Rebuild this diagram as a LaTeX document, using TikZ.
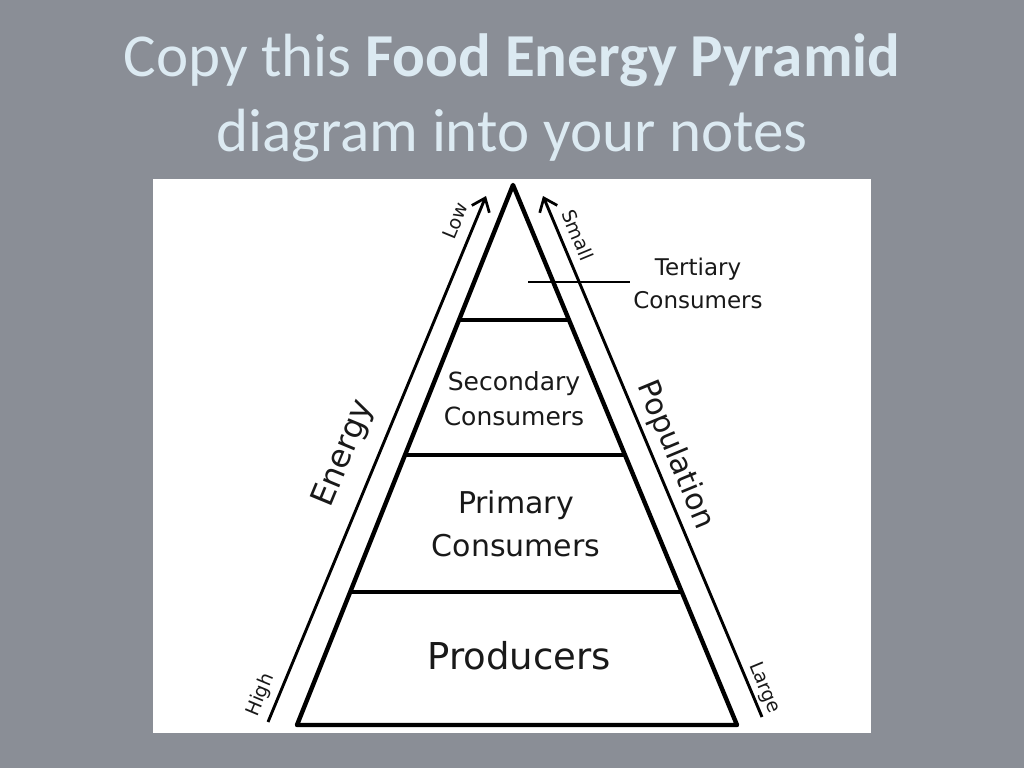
\documentclass[tikz,border=0pt]{standalone}
\usepackage{fontspec}
\setmainfont{Carlito}
\newfontfamily\diagfont{DejaVu Sans}
\usetikzlibrary{arrows.meta}
\definecolor{slidebg}{HTML}{8A8E96}
\definecolor{titlecol}{HTML}{DCEAF2}
\tikzset{
  pyr/.style={line width=4.4pt, line join=round, line cap=round},
  lvl/.style={line width=3.4pt},
  axisarrow/.style={line width=2.9pt, -{Straight Barb[length=12pt,width=19pt,line width=2.7pt]}},
  lbl/.style={font=\diagfont, text=black!90, align=center, inner sep=0pt},
  titletxt/.style={font=\fontsize{61}{70}\selectfont, text=titlecol, inner sep=0pt},
}
\begin{document}
\begin{tikzpicture}[x=1pt,y=-1pt]
\fill[slidebg] (0,0) rectangle (1024,768);
\useasboundingbox (0,0) rectangle (1024,768);
% title
\node[titletxt, anchor=base] (t1) at (512,76) {Copy this \textbf{Food Energy Pyramid}};
\node[titletxt, anchor=base] (t2) at (512,151) {diagram into your notes};
% white picture
\fill[white] (153,179) rectangle (871,733);
% pyramid
\coordinate (apex) at (513,185);
\coordinate (bl) at (297,725);
\coordinate (br) at (737,725);
\draw[pyr] (apex) -- (bl) -- (br) -- cycle;
\coordinate (l1a) at (459,320); \coordinate (l1b) at (569,320);
\coordinate (l2a) at (405,455); \coordinate (l2b) at (625,455);
\coordinate (l3a) at (351,592); \coordinate (l3b) at (681,592);
\draw[lvl] (l1a) -- (l1b);
\draw[lvl] (l2a) -- (l2b);
\draw[lvl] (l3a) -- (l3b);
% tertiary pointer
\coordinate (tpa) at (528,282);
\coordinate (tpb) at (630,282);
\draw[line width=2.6pt] (tpa) -- (tpb);
% arrows
\coordinate (ela) at (268,722);
\coordinate (elb) at (486,196);
\draw[axisarrow] (ela) -- (elb);
\coordinate (pra) at (762,717);
\coordinate (prb) at (543,196);
\draw[axisarrow] (pra) -- (prb);
% labels
\node[lbl, font=\diagfont\fontsize{23}{33}\selectfont, anchor=center] (tert) at (698,283) {Tertiary\\Consumers};
\node[lbl, font=\diagfont\fontsize{25}{35}\selectfont] (sec) at (514,399) {Secondary\\Consumers};
\node[lbl, font=\diagfont\fontsize{30}{43}\selectfont] (prim) at (516,524) {Primary\\Consumers};
\node[lbl, font=\diagfont\fontsize{37}{40}\selectfont] (prod) at (519,656) {Producers};
\node[lbl, font=\diagfont\fontsize{32}{36}\selectfont, rotate=67.5] (energy) at (344,454) {Energy};
\node[lbl, font=\diagfont\fontsize{30}{34}\selectfont, rotate=-67.5] (pop) at (675,455) {Population};
\node[lbl, font=\diagfont\fontsize{19}{22}\selectfont, rotate=67.5] (low) at (455,221) {Low};
\node[lbl, font=\diagfont\fontsize{19}{22}\selectfont, rotate=67.5] (high) at (261,695) {High};
\node[lbl, font=\diagfont\fontsize{19}{22}\selectfont, rotate=-67.5] (small) at (578,235) {Small};
\node[lbl, font=\diagfont\fontsize{19}{22}\selectfont, rotate=-67.5] (large) at (764,688) {Large};
\end{tikzpicture}
\end{document}
